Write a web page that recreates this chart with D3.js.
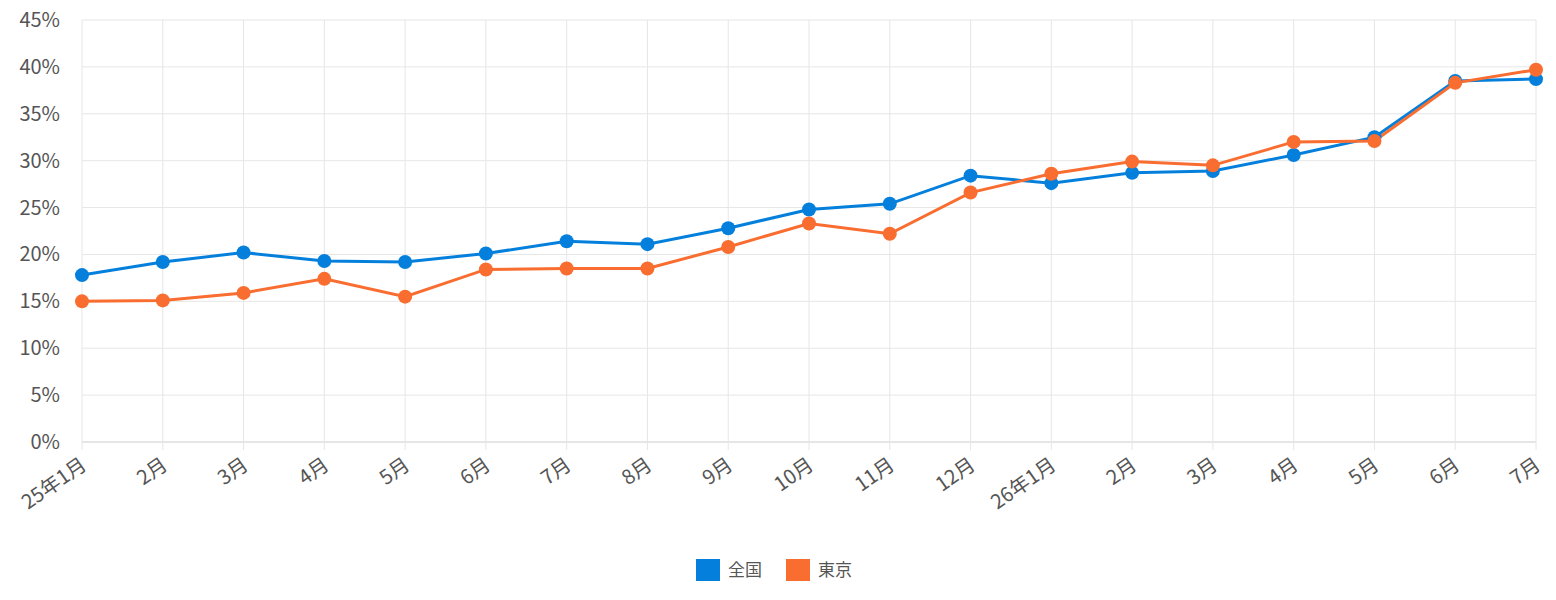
<!DOCTYPE html>
<html>
<head>
<meta charset="utf-8" />
<style>
  body { margin: 0; background: #fff; }
  text { font-family: "Noto Sans CJK JP", "Noto Sans", sans-serif; fill: #555; }
</style>
</head>
<body>
<script src="https://d3js.org/d3.v7.min.js"></script>
<svg id="chart" width="1556" height="600"></svg>
<script>
  const categories = ["25年1月", "2月", "3月", "4月", "5月", "6月", "7月", "8月", "9月", "10月", "11月", "12月",
                      "26年1月", "2月", "3月", "4月", "5月", "6月", "7月"];
  const zenkoku = [17.8, 19.2, 20.2, 19.3, 19.2, 20.1, 21.4, 21.1, 22.8, 24.8, 25.4, 28.4, 27.6, 28.7, 28.9, 30.6, 32.5, 38.5, 38.7];
  const tokyo = [15.0, 15.1, 15.9, 17.4, 15.5, 18.4, 18.5, 18.5, 20.8, 23.3, 22.2, 26.6, 28.6, 29.9, 29.5, 32.0, 32.1, 38.3, 39.7];
  const yTicks = [0, 5, 10, 15, 20, 25, 30, 35, 40, 45];
  const series = [
    { name: "全国", values: zenkoku, color: "#0480dc" },
    { name: "東京", values: tokyo, color: "#f96d30" }
  ];

  const svg = d3.select("#chart");
  const x = d3.scalePoint().domain(d3.range(categories.length)).range([82, 1536]);
  const y = d3.scaleLinear().domain([0, 45]).range([442, 20]);

  // grid
  svg.append("g").selectAll("line").data(yTicks).join("line")
    .attr("x1", 82).attr("x2", 1536)
    .attr("y1", d => y(d)).attr("y2", d => y(d))
    .attr("stroke", d => d === 0 ? "#ccc" : "#e6e6e6");
  svg.append("g").selectAll("line").data(d3.range(categories.length)).join("line")
    .attr("x1", d => x(d)).attr("x2", d => x(d))
    .attr("y1", y(45)).attr("y2", y(0) + 8)
    .attr("stroke", "#e6e6e6");

  // y labels
  svg.append("g").selectAll("text").data(yTicks).join("text")
    .attr("x", 60).attr("y", d => y(d)).attr("dy", "0.35em")
    .attr("text-anchor", "end").style("font-size", "20px")
    .text(d => d + "%");

  // x labels
  svg.append("g").selectAll("text").data(categories).join("text")
    .attr("transform", (d, i) => `translate(${x(i) + 6},${y(0) + 26}) rotate(-35)`)
    .attr("text-anchor", "end").style("font-size", "20px")
    .text(d => d);

  const line = d3.line().x((d, i) => x(i)).y(d => y(d));
  series.forEach(s => {
    svg.append("path").datum(s.values)
      .attr("d", line).attr("fill", "none")
      .attr("stroke", s.color).attr("stroke-width", 3);
  });
  series.forEach(s => {
    svg.append("g").selectAll("circle").data(s.values).join("circle")
      .attr("cx", (d, i) => x(i)).attr("cy", d => y(d)).attr("r", 7)
      .attr("fill", s.color);
  });

  // legend
  const lg = svg.append("g").attr("transform", "translate(696,559)");
  series.forEach((s, i) => {
    const g = lg.append("g").attr("transform", `translate(${i * 90},0)`);
    g.append("rect").attr("width", 24).attr("height", 22).attr("fill", s.color);
    g.append("text").attr("x", 32).attr("y", 11).attr("dy", "0.35em")
      .style("font-size", "17px").text(s.name);
  });
</script>
</body>
</html>
